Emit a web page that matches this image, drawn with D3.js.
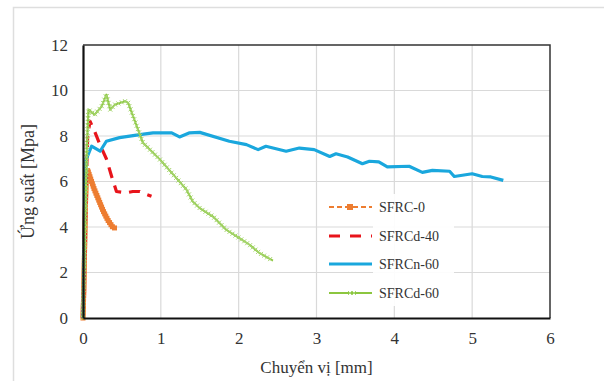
<!DOCTYPE html>
<html>
<head>
<meta charset="utf-8">
<script src="https://cdn.jsdelivr.net/npm/d3@7"></script>
<style>
  body { margin: 0; background: white; }
</style>
</head>
<body>
<svg id="graph"></svg>
<script>
const width = 604;
const height = 381;
const serif = '"Liberation Serif", "Times New Roman", serif';

const xTicks = [0, 1, 2, 3, 4, 5, 6];
const yTicks = [0, 2, 4, 6, 8, 10, 12];

const seriesNames = ["SFRC-0", "SFRCd-40", "SFRCn-60", "SFRCd-60"];

// Displacement [mm] / stress [MPa].
const sfrc0X = [0, 0.01, 0.02, 0.03, 0.04, 0.06, 0.09, 0.14, 0.2, 0.26, 0.32, 0.38, 0.41];
const sfrc0Y = [0, 1.2, 3.0, 4.8, 6.0, 6.5, 6.2, 5.7, 5.2, 4.7, 4.3, 4.0, 3.95];

const sfrcd40X = [0, 0.02, 0.04, 0.06, 0.09, 0.15, 0.22, 0.3, 0.37, 0.43, 0.55, 0.64, 0.73, 0.8, 0.88];
const sfrcd40Y = [0, 2.5, 5.5, 8.0, 8.65, 8.2, 7.6, 7.0, 6.2, 5.56, 5.5, 5.56, 5.56, 5.45, 5.35];

const sfrcn60X = [0, 0.01, 0.02, 0.04, 0.11, 0.22, 0.3, 0.47, 0.73, 0.9, 1.14, 1.24, 1.37, 1.5, 1.88, 2.1, 2.25, 2.35, 2.61,
  2.78, 2.97, 3.17, 3.25, 3.4, 3.59, 3.68, 3.8, 3.91, 4.19, 4.36, 4.49, 4.71, 4.77, 5.0, 5.13, 5.24, 5.4];
const sfrcn60Y = [0, 2.0, 4.5, 6.96, 7.55, 7.33, 7.77, 7.93, 8.06, 8.14, 8.14, 7.96, 8.14, 8.16, 7.77, 7.62, 7.4, 7.55, 7.33,
  7.47, 7.4, 7.1, 7.22, 7.08, 6.78, 6.89, 6.86, 6.64, 6.67, 6.4, 6.49, 6.45, 6.22, 6.34, 6.22, 6.2, 6.05];

const sfrcd60X = [0, 0.01, 0.03, 0.05, 0.07, 0.15, 0.24, 0.3, 0.35, 0.41, 0.54, 0.58, 0.77, 0.99, 1.16, 1.33,
  1.41, 1.5, 1.67, 1.84, 2.01, 2.14, 2.27, 2.44];
const sfrcd60Y = [0, 1.5, 4.5, 7.5, 9.16, 8.94, 9.3, 9.82, 9.16, 9.38, 9.53, 9.46, 7.7, 6.96, 6.3, 5.64,
  5.12, 4.83, 4.46, 3.88, 3.51, 3.22, 2.85, 2.52];

const colors = ["#ED7D31", "#E8141B", "#1AA7DD", "#8CC63F"];

const margin = {top: 45, right: 54, bottom: 63, left: 83};

var svg = d3.select("#graph")
  .attr("width", width)
  .attr("height", height);

// Outer frame of the figure.
svg.append("path")
  .attr("d", `M13.5,${height} V7.5 H${width}`)
  .attr("fill", "none")
  .attr("stroke", "#dedede")
  .attr("stroke-width", 1.5);

xScale = d3.scaleLinear()
  .domain([0, 6])
  .range([margin.left, width - margin.right]);
yScale = d3.scaleLinear()
  .domain([0, 12])
  .range([height - margin.bottom, margin.top]);

// Grid.
svg.append("g")
  .selectAll("line")
  .data(xTicks.slice(1, -1))
  .join("line")
  .attr("x1", d => xScale(d)).attr("x2", d => xScale(d))
  .attr("y1", yScale(12)).attr("y2", yScale(0))
  .attr("stroke", "#d9d9d9").attr("stroke-width", 1.2);
svg.append("g")
  .selectAll("line")
  .data(yTicks.slice(1, -1))
  .join("line")
  .attr("x1", xScale(0)).attr("x2", xScale(6))
  .attr("y1", d => yScale(d)).attr("y2", d => yScale(d))
  .attr("stroke", "#d9d9d9").attr("stroke-width", 1.2);

// Top and right border.
svg.append("path")
  .attr("d", `M${xScale(0)},${yScale(12)} H${xScale(6)} V${yScale(0)}`)
  .attr("fill", "none")
  .attr("stroke", "#333")
  .attr("stroke-width", 1.5);

// Axes.
xAxis = g => g
  .attr("transform", `translate(0,${yScale(0)})`)
  .call(d3.axisBottom(xScale).tickValues(xTicks).tickFormat(d3.format("d")).tickSize(0).tickPadding(14))
  .call(g => g.select(".domain").attr("stroke", "#111").attr("stroke-width", 2.2))
  .call(g => g.selectAll(".tick text").attr("font-size", 17).attr("fill", "#333").style("font-family", serif));
yAxis = g => g
  .attr("transform", `translate(${xScale(0)},0)`)
  .call(d3.axisLeft(yScale).tickValues(yTicks).tickFormat(d3.format("d")).tickSize(0).tickPadding(15))
  .call(g => g.select(".domain").attr("stroke", "#111").attr("stroke-width", 2.2))
  .call(g => g.selectAll(".tick text").attr("font-size", 17).attr("fill", "#333").style("font-family", serif));

function drawLine(xs, ys, color, w, dash) {
  var data = xs.map((x, i) => [xScale(x), yScale(ys[i])]);
  return svg.append("path")
    .datum(data)
    .attr("fill", "none")
    .attr("stroke", color)
    .attr("stroke-width", w)
    .attr("stroke-linejoin", "round")
    .attr("stroke-dasharray", dash)
    .attr("d", d3.line());
}

// Markers along a polyline, spaced every `step` px.
function markerPoints(xs, ys, step) {
  var pts = xs.map((x, i) => [xScale(x), yScale(ys[i])]);
  var out = [];
  var carry = 0;
  for (var i = 1; i < pts.length; i++) {
    var dx = pts[i][0] - pts[i-1][0], dy = pts[i][1] - pts[i-1][1];
    var len = Math.hypot(dx, dy);
    var t = carry;
    while (t <= len) {
      out.push([pts[i-1][0] + dx * t / len, pts[i-1][1] + dy * t / len]);
      t += step;
    }
    carry = t - len;
  }
  return out;
}

// SFRC-0: dashed with square markers.
drawLine(sfrc0X, sfrc0Y, colors[0], 2, "4,3");
svg.append("g")
  .selectAll("rect")
  .data(markerPoints(sfrc0X, sfrc0Y, 2.5))
  .join("rect")
  .attr("x", d => d[0] - 2.5).attr("y", d => d[1] - 2.5)
  .attr("width", 5).attr("height", 5)
  .attr("fill", colors[0]);

// SFRCd-40: long red dashes.
drawLine(sfrcd40X, sfrcd40Y, colors[1], 3.2, "11,8");

// SFRCn-60: solid blue.
drawLine(sfrcn60X, sfrcn60Y, colors[2], 3.2, null);

// SFRCd-60: green with x markers.
drawLine(sfrcd60X, sfrcd60Y, colors[3], 2, null);
svg.append("g")
  .selectAll("path")
  .data(markerPoints(sfrcd60X, sfrcd60Y, 3.5))
  .join("path")
  .attr("d", d => `M${d[0]-2},${d[1]-2}L${d[0]+2},${d[1]+2}M${d[0]-2},${d[1]+2}L${d[0]+2},${d[1]-2}`)
  .attr("stroke", "#A6D66E")
  .attr("stroke-width", 1);

svg.append("g").call(xAxis);
svg.append("g").call(yAxis);

// Legend.
svg.append("rect")
  .attr("x", 373).attr("y", 194)
  .attr("width", 81).attr("height", 112)
  .attr("fill", "white").attr("opacity", 0.92);

const legendY = [207, 236, 264, 293];
const legend = svg.append("g")
  .selectAll("g")
  .data(seriesNames)
  .join("g")
  .attr("transform", (d, i) => `translate(0,${legendY[i]})`);
legend.append("line")
  .attr("x1", 329).attr("x2", 372)
  .attr("stroke", (d, i) => colors[i])
  .attr("stroke-width", (d, i) => [2, 3.2, 3.2, 2][i])
  .attr("stroke-dasharray", (d, i) => ["5,3", "11,10", null, null][i]);
legend.filter((d, i) => i == 0).append("rect")
  .attr("x", 347).attr("y", -3).attr("width", 6).attr("height", 6)
  .attr("fill", colors[0]);
legend.filter((d, i) => i == 3).append("path")
  .attr("d", "M348,-2L352,2M348,2L352,-2M352,-2L356,2M352,2L356,-2")
  .attr("stroke", "#A6D66E").attr("stroke-width", 1);
legend.append("text")
  .attr("x", 379).attr("dy", "0.35em")
  .attr("font-size", 14)
  .attr("fill", "#333")
  .style("font-family", serif)
  .text(d => d);

// Axis titles.
svg.append("text")
  .attr("transform", `translate(34,${(yScale(0) + yScale(12)) / 2}) rotate(-90)`)
  .attr("text-anchor", "middle")
  .attr("font-size", 18)
  .attr("fill", "#333")
  .style("font-family", serif)
  .text("Ứng suất [Mpa]");
svg.append("text")
  .attr("x", (xScale(0) + xScale(6)) / 2)
  .attr("y", 373)
  .attr("text-anchor", "middle")
  .attr("font-size", 17)
  .attr("fill", "#333")
  .style("font-family", serif)
  .text("Chuyển vị [mm]");
</script>
</body>
</html>
